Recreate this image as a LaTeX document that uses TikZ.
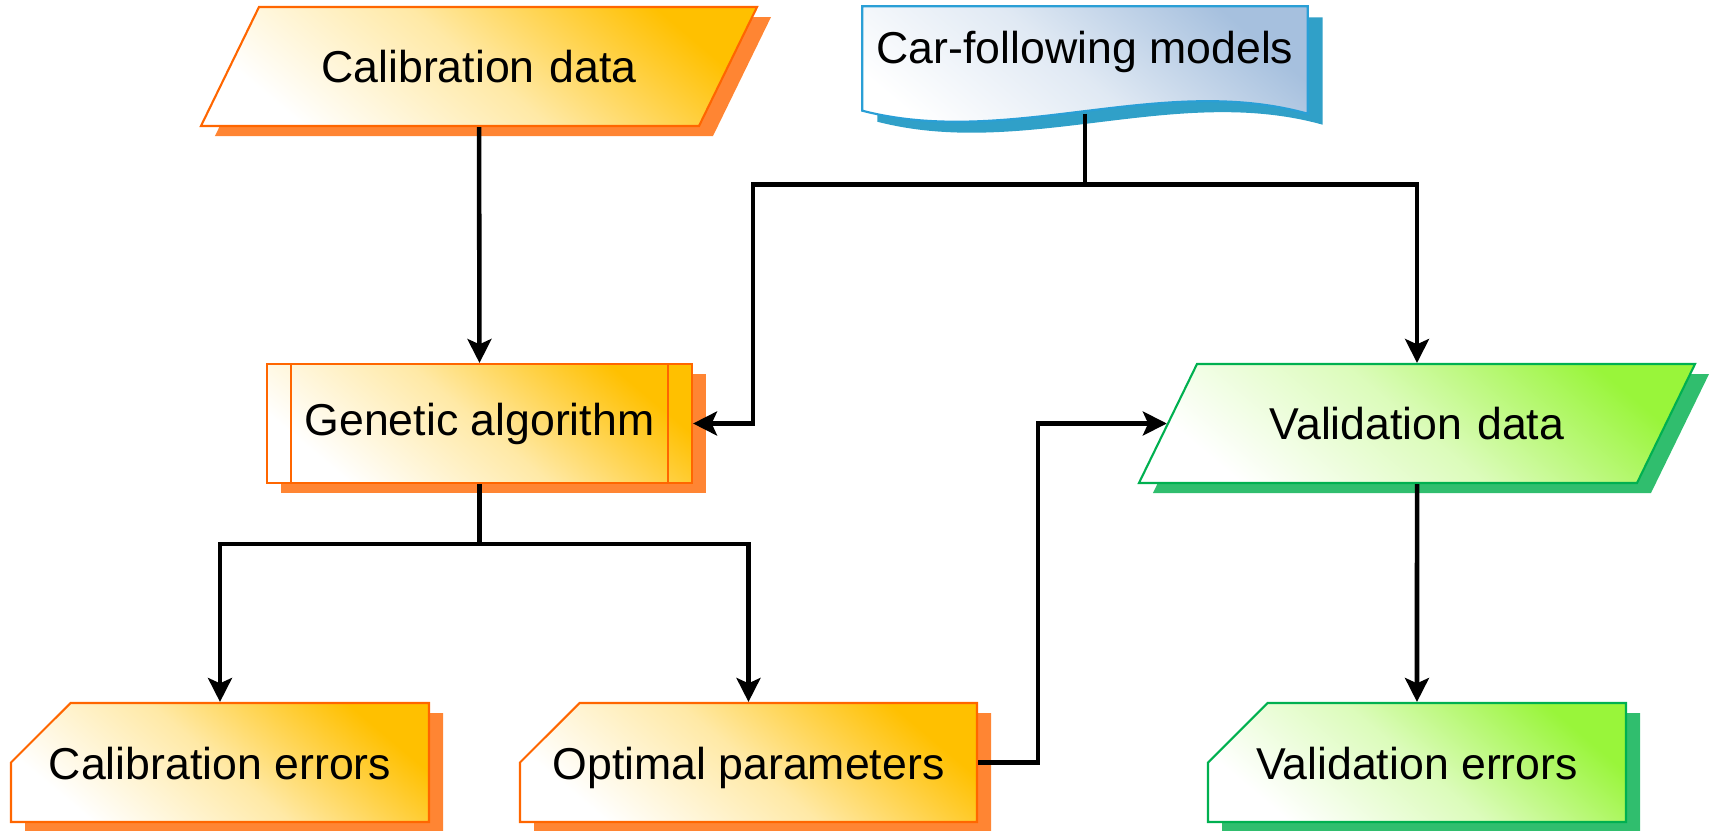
\documentclass[tikz,border=0pt]{standalone}
\usepackage{fontspec}
\setmainfont{Liberation Sans}
\usetikzlibrary{shapes.geometric, shapes.misc, shadows, arrows.meta, backgrounds, calc}

\definecolor{orline}{HTML}{FF6600}
\definecolor{orshadow}{HTML}{FF8533}
\definecolor{ortop}{HTML}{FFC000}
\definecolor{grline}{HTML}{00B050}
\definecolor{grshadow}{HTML}{30BE6E}
\definecolor{grtop}{HTML}{99F53A}
\definecolor{blline}{HTML}{2A9FD6}
\definecolor{blshadow}{HTML}{30A0C8}
\definecolor{bltop}{HTML}{A6C0DE}

\tikzset{
  orangecol/.style={draw=orline, line width=0.6pt, top color=ortop, bottom color=white, middle color=ortop!35,
    shading angle=-40,
    drop shadow={shadow xshift=0.14cm, shadow yshift=-0.10cm, fill=orshadow, opacity=1}},
  greencol/.style={draw=grline, line width=0.6pt, top color=grtop, bottom color=white, middle color=grtop!35,
    shading angle=-40,
    drop shadow={shadow xshift=0.14cm, shadow yshift=-0.10cm, fill=grshadow, opacity=1}},
  databox/.style={trapezium, trapezium left angle=64, trapezium right angle=116,
    text width=4.40cm, align=center, text height=0.755cm, text depth=0.435cm, inner sep=0pt},
  procbox/.style={rectangle, minimum width=4.25cm, minimum height=1.19cm, inner sep=0pt,
    path picture={\draw[orline, line width=0.6pt]
      ([xshift=0.24cm]path picture bounding box.north west) -- ([xshift=0.24cm]path picture bounding box.south west)
      ([xshift=-0.24cm]path picture bounding box.north east) -- ([xshift=-0.24cm]path picture bounding box.south east);}},
  pagebox/.style={chamfered rectangle, chamfered rectangle corners=north west,
    chamfered rectangle xsep=0.47cm, chamfered rectangle ysep=0.43cm,
    text height=0.33cm, text depth=0cm, inner sep=0pt},
  docbox/.style={rectangle, minimum width=4.44cm, minimum height=1.06cm, text depth=0.26cm, inner sep=0pt},
  conn/.style={line width=1.3pt, line join=miter, -{Stealth[length=6.8pt,width=6.8pt,inset=1.5pt]}}
}

\begin{document}
\begin{tikzpicture}[every node/.append style={font=\fontsize{12.7}{15}\selectfont}]
  \useasboundingbox (0,0) rectangle (17.16,8.30);

  \node[databox, orangecol] (caldata) at (4.79,7.635) {Calibration data};
  \node[docbox] (cfm) at (10.85,7.70) {Car-following models};
  \node[procbox, orangecol] (genetic) at (4.795,4.065) {Genetic algorithm};
  \node[databox, greencol] (valdata) at (14.17,4.065) {Validation data};
  \node[pagebox, orangecol, minimum width=4.18cm] (calerr) at (2.20,0.675) {Calibration errors};
  \node[pagebox, orangecol, minimum width=4.57cm] (optpar) at (7.485,0.675) {Optimal parameters};
  \node[pagebox, greencol, minimum width=4.18cm] (valerr) at (14.17,0.675) {Validation errors};

  \begin{scope}[on background layer]
    \fill[blshadow, transform canvas={xshift=0.15cm, yshift=-0.11cm}]
      (cfm.north west) -- (cfm.north east) -- (cfm.south east)
      .. controls ($(cfm.south east)+(-1.47,0.41)$) and ($(cfm.south west)+(1.47,-0.35)$) .. ($(cfm.south west)+(0,0.03)$) -- cycle;
    \draw[blline, line width=0.6pt, top color=bltop, bottom color=white, middle color=bltop!35, shading angle=-40]
      (cfm.north west) -- (cfm.north east) -- (cfm.south east)
      .. controls ($(cfm.south east)+(-1.47,0.41)$) and ($(cfm.south west)+(1.47,-0.35)$) .. ($(cfm.south west)+(0,0.03)$) -- cycle;
  \end{scope}

  \coordinate (split1) at ([yshift=-0.71cm]cfm.south);
  \coordinate (split2) at ([yshift=-0.6cm]genetic.south);

  \draw[conn] (caldata.south) -- (genetic.north);
  \draw[conn] (cfm.south) -- (split1) -| (valdata.north);
  \draw[conn] (split1) -| ([xshift=0.6cm]genetic.east) -- (genetic.east);
  \draw[conn] (genetic.south) -- (split2) -| (calerr.north);
  \draw[conn] (split2) -| (optpar.north);
  \draw[conn] (optpar.east) -- ++(0.6,0) |- (valdata.west);
  \draw[conn] (valdata.south) -- (valerr.north);
\end{tikzpicture}
\end{document}
